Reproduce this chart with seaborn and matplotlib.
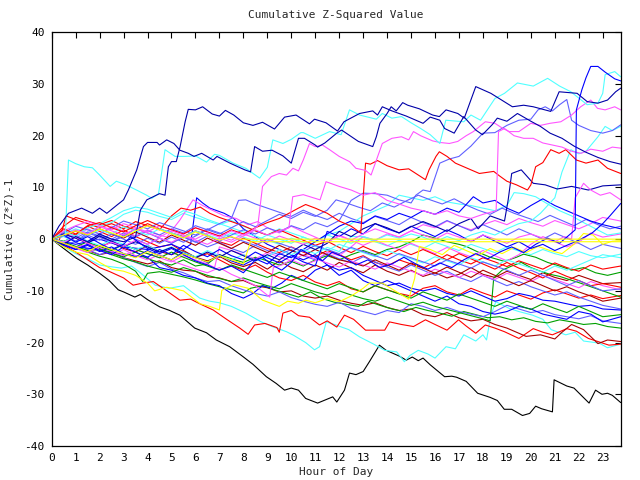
import matplotlib
matplotlib.use("Agg")
import matplotlib.pyplot as plt
import seaborn as sns
import pandas as pd

# ---- data: (hour, cumulative value) pairs ----
BLACK = [(0,0),(0.5,-1.8),(1.04,-3.7),(1.5,-5.0),(2.0,-6.6),(2.4,-8.0),(2.78,-9.8),(3.0,-10.2),(3.47,-11.2),(3.7,-10.7),(4.0,-11.7),(4.51,-13.1),(4.93,-13.8),(5.35,-14.7),(5.97,-17.2),(6.46,-18.1),(6.87,-19.5),(7.43,-20.8),(7.98,-22.7),(8.4,-24.2),(8.96,-26.6),(9.37,-27.9),(9.72,-29.2),(10.0,-28.8),(10.3,-29.2),(10.6,-30.8),(11.1,-31.7),(11.73,-30.5),(11.9,-31.5),(12.22,-29.2),(12.43,-25.9),(12.7,-26.2),(13.0,-25.6),(13.26,-23.7),(13.68,-20.5),(13.96,-21.5),(14.5,-22.6),(14.8,-23.4),(15.05,-22.8),(15.3,-23.5),(15.5,-23.0),(15.8,-24.3),(16.4,-26.6),(16.7,-26.5),(16.9,-26.7),(17.3,-27.5),(17.78,-29.8),(18.3,-30.6),(18.6,-31.2),(18.89,-32.9),(19.2,-32.9),(19.65,-34.1),(19.95,-33.7),(20.2,-32.3),(20.45,-32.8),(20.9,-33.4),(20.97,-27.2),(21.5,-28.4),(21.8,-28.8),(22.43,-31.7),(22.7,-29.2),(22.97,-30.0),(23.2,-29.8),(23.4,-30.2),(23.75,-31.6)]
CYAN_LOW = [(0,0),(0.5,-1.5),(1,-2.8),(1.5,-3.8),(2,-5.0),(2.43,-5.3),(2.9,-5.6),(3.33,-5.2),(3.7,-6.5),(4.32,-8.9),(4.9,-9.5),(5.5,-9.0),(6.18,-11.4),(6.6,-12.0),(7.0,-12.3),(7.5,-13.0),(8.1,-14.3),(8.7,-15.9),(9.2,-16.9),(9.8,-17.9),(10.1,-18.6),(10.6,-20.0),(10.97,-21.4),(11.18,-20.8),(11.46,-16.0),(11.8,-16.5),(12.4,-17.5),(12.85,-18.9),(13.4,-20.2),(13.9,-21.5),(14.4,-21.8),(14.72,-23.7),(14.95,-22.5),(15.3,-21.5),(15.7,-22.2),(16.0,-23.0),(16.46,-20.8),(16.85,-21.2),(17.2,-18.5),(17.7,-19.7),(18.0,-18.5),(18.15,-19.5),(18.33,-14.7),(18.54,-12.1),(19.1,-13.4),(19.5,-14.0),(20.07,-14.7),(20.5,-15.5),(20.85,-17.5),(21.46,-18.5),(21.85,-18.0),(22.2,-19.7),(22.85,-20.1),(23.2,-21.0),(23.75,-20.3)]
RED_LOW = [(0,0),(0.5,-1.2),(1,-2.5),(1.5,-4.0),(2,-5.5),(2.43,-6.3),(3.0,-7.5),(3.4,-8.9),(3.8,-8.5),(4.24,-8.2),(4.8,-10.0),(5.35,-11.8),(5.8,-11.6),(6.18,-12.5),(6.74,-13.7),(7.3,-15.5),(7.85,-17.2),(8.2,-18.4),(8.47,-16.6),(8.9,-16.3),(9.4,-17.1),(9.5,-18.0),(9.65,-14.3),(10.0,-13.8),(10.3,-14.8),(10.76,-15.1),(11.18,-16.6),(11.5,-15.8),(11.9,-17.0),(12.22,-14.7),(12.6,-15.5),(13.1,-17.6),(13.9,-17.6),(14.1,-16.0),(14.6,-16.5),(15.1,-16.9),(15.6,-15.6),(16.0,-16.5),(16.5,-17.6),(16.98,-15.6),(17.3,-16.8),(17.7,-18.2),(18.1,-16.6),(18.5,-17.2),(18.9,-17.9),(19.5,-19.2),(20.1,-17.3),(20.5,-18.0),(20.9,-18.5),(21.5,-17.3),(21.9,-17.8),(22.4,-19.2),(22.8,-19.8),(23.26,-20.5),(23.75,-20.3)]
DRED_LOW = [(0,0),(0.5,-0.8),(1,-1.8),(1.5,-2.2),(2,-3.0),(2.5,-2.5),(3,-3.6),(3.5,-4.2),(4,-4.8),(4.5,-4.2),(5,-5.5),(5.5,-6.0),(6,-6.2),(6.5,-7.3),(7,-7.5),(7.5,-8.2),(8,-8.0),(8.5,-9.0),(9,-9.4),(9.5,-10.2),(10,-10.0),(10.5,-11.0),(11,-11.4),(11.5,-11.0),(12,-11.8),(12.5,-12.4),(13,-12.8),(13.5,-12.3),(14,-13.2),(14.5,-13.8),(15,-13.5),(15.5,-14.6),(16,-15.0),(16.5,-14.2),(17,-15.2),(17.5,-15.8),(18,-15.5),(18.5,-16.5),(19,-17.2),(19.4,-18.0),(19.8,-18.8),(20.4,-18.5),(21.0,-19.3),(21.3,-18.0),(21.7,-16.5),(22.2,-17.5),(22.8,-20.2),(23.2,-19.5),(23.75,-19.8)]
GREEN_LOW = [(0,0),(0.5,-0.8),(1,-1.6),(1.5,-2.5),(2,-3.3),(2.5,-3.9),(3,-4.8),(3.5,-6.2),(3.8,-8.2),(4.0,-6.6),(4.5,-6.3),(5,-6.8),(5.5,-7.3),(6,-7.9),(6.5,-8.6),(7,-9.2),(7.5,-9.8),(8,-10.4),(8.3,-9.5),(8.8,-9.0),(9.3,-9.8),(9.8,-10.5),(10.3,-11.2),(10.8,-10.2),(11.3,-11.5),(11.8,-12.2),(12.3,-12.6),(12.8,-13.0),(13.2,-12.0),(13.7,-12.8),(14.2,-13.5),(14.7,-14.0),(15.2,-13.2),(15.7,-13.8),(16.2,-14.3),(16.7,-14.9),(17.2,-14.0),(17.7,-14.6),(18.2,-15.2),(18.7,-15.0),(19.2,-15.6),(19.7,-15.2),(20.2,-15.9),(20.7,-16.2),(21.2,-15.6),(21.7,-16.0),(22.2,-16.5),(22.7,-16.3),(23.2,-16.9),(23.75,-17.2)]
LBLUE_LOW = [(0,0),(0.5,-1),(1,-0.5),(1.5,-2),(2,-3),(2.5,-2.2),(3,-3.6),(3.5,-4.5),(4,-5.3),(4.5,-4.5),(5,-5.8),(5.5,-6.5),(6,-7.5),(6.5,-8.2),(7,-8.0),(7.5,-9.0),(8,-9.8),(8.5,-10.5),(9,-11.0),(9.5,-10.2),(10,-11.3),(10.5,-12.0),(11,-12.6),(11.5,-13.0),(12,-12.2),(12.5,-13.4),(13,-14.0),(13.5,-14.6),(14,-13.8),(14.5,-14.2),(15,-12.5),(15.5,-13.0),(16,-13.8),(16.5,-13.2),(17,-14.0),(17.5,-14.5),(18,-15.0),(18.5,-14.0),(19,-12.8),(19.5,-13.5),(20,-14.2),(20.5,-13.8),(21,-14.6),(21.5,-15.0),(22,-15.4),(22.5,-14.8),(23,-15.8),(23.75,-16.3)]
BLUE_C = [(0,0),(1,-1.5),(2,-2),(3,-3),(4,-3.5),(4.5,-5.5),(5,-6),(5.5,-7),(6,-7.5),(6.5,-8.5),(7,-9),(7.5,-10.5),(8,-11.4),(8.4,-10.5),(8.8,-9),(9.2,-9.5),(9.6,-8.5),(10,-7),(10.5,-8),(11,-6),(11.5,-5),(12,-7),(12.5,-6),(13,-8),(13.5,-9),(14,-8),(14.5,-9),(15,-10),(15.5,-11),(16,-12),(16.5,-11),(17,-12.5),(17.5,-13),(18,-14),(18.5,-14.5),(19,-14),(19.5,-13),(20,-13.5),(20.5,-14.5),(21,-15),(21.5,-15.5),(22,-14),(22.5,-14.5),(23,-16),(23.75,-15)]
RED_M11 = [(0,0),(0.5,1.5),(1,0.8),(1.5,2.5),(2,1.5),(2.5,0.5),(3,1.8),(3.5,0.5),(4,-0.5),(4.5,-1.5),(5,-1.0),(5.5,-2.5),(6,-3.5),(6.5,-2.8),(7,-4.0),(7.5,-5.2),(8,-6.0),(8.5,-5.0),(9,-6.4),(9.5,-7.5),(10,-8.0),(10.5,-7.0),(11,-8.3),(11.5,-9.0),(12,-8.2),(12.5,-9.6),(13,-10.2),(13.5,-9.0),(14,-9.8),(14.5,-10.5),(15,-11.0),(15.5,-9.5),(16,-9.0),(16.5,-10.2),(17,-10.8),(17.5,-9.5),(18,-10.4),(18.5,-11.2),(19,-10.0),(19.5,-10.8),(20,-11.6),(20.5,-10.4),(21,-9.8),(21.5,-10.6),(22,-11.4),(22.5,-10.8),(23,-11.5),(23.75,-10.9)]
DRED_M8 = [(0,0),(0.5,-0.5),(1,0.5),(1.5,-0.8),(2,-1.5),(2.5,-0.6),(3,-1.8),(3.5,-2.5),(4,-1.2),(4.5,-2.4),(5,-3.0),(5.5,-2.2),(6,-3.5),(6.5,-4.2),(7,-3.3),(7.5,-4.6),(8,-5.3),(8.5,-4.5),(9,-5.8),(9.5,-4.2),(10,-5.5),(10.5,-6.3),(11,-5.0),(11.5,-6.0),(12,-4.5),(12.5,-5.6),(13,-6.5),(13.5,-5.0),(14,-6.2),(14.5,-7.0),(15,-6.0),(15.5,-7.2),(16,-6.5),(16.5,-7.5),(17,-6.8),(17.5,-5.5),(18,-6.8),(18.5,-7.4),(19,-6.2),(19.5,-7.0),(20,-7.8),(20.5,-6.5),(21,-7.4),(21.5,-8.0),(22,-7.0),(22.5,-7.8),(23,-8.6),(23.75,-8.4)]
GREEN_M6 = [(0,0),(0.5,-1.0),(1,-1.5),(1.5,-0.5),(2,-1.8),(2.5,-2.8),(3,-3.4),(3.5,-2.5),(4,-3.8),(4.5,-4.5),(5,-5.0),(5.5,-4.0),(6,-5.2),(6.5,-4.8),(7,-3.0),(7.5,-3.8),(8,-4.5),(8.5,-3.5),(9,-4.2),(9.5,-5.0),(10,-4.3),(10.5,-5.2),(11,-4.0),(11.5,-3.2),(12,-4.0),(12.5,-3.0),(13,-2.2),(13.5,-3.0),(14,-2.0),(14.5,-1.5),(15,-0.5),(15.5,0.8),(16,0.2),(16.5,-0.5),(17,-1.0),(17.3,-1.4),(17.8,-2.5),(18.3,-3.5),(18.9,-4.3),(19.4,-3.5),(19.7,-2.9),(20.2,-3.5),(20.7,-4.5),(21.2,-5.2),(21.7,-6.0),(22.2,-5.5),(22.7,-6.5),(23.2,-7.0),(23.75,-6.4)]
RED_M5 = [(0,0),(0.5,2.5),(1,4.2),(1.5,3.5),(2,2.8),(2.5,3.6),(3,2.5),(3.5,1.8),(4,3.0),(4.5,2.0),(5,1.2),(5.5,0.5),(6,1.6),(6.5,0.8),(7,-0.5),(7.5,-1.2),(8,0.2),(8.5,-0.8),(9,-1.8),(9.5,-2.6),(10,-1.5),(10.5,-2.5),(11,-3.4),(11.5,-2.2),(12,-3.0),(12.5,-4.0),(13,-3.2),(13.5,-4.5),(14,-5.2),(14.5,-4.0),(15,-4.8),(15.5,-5.6),(16,-4.4),(16.5,-3.0),(17,-4.0),(17.5,-4.8),(18,-3.6),(18.5,-4.4),(19,-5.3),(19.5,-4.2),(20,-5.0),(20.5,-5.8),(21,-4.6),(21.5,-5.5),(22,-6.2),(22.5,-5.0),(23,-5.8),(23.75,-5.2)]
CYAN_M3 = [(0,0),(0.5,1.0),(1,2.0),(1.5,1.2),(2,2.5),(2.5,3.2),(3,4.8),(3.5,5.6),(4,5.2),(4.5,4.4),(5,3.8),(5.5,5.0),(6,4.2),(6.5,3.5),(7,2.8),(7.5,3.6),(8,2.5),(8.5,1.6),(9,0.8),(9.5,2.0),(10,1.2),(10.5,0.4),(11,-0.5),(11.5,0.8),(12,0.0),(12.5,-0.8),(13,0.4),(13.5,-0.5),(14,-1.3),(14.5,-0.2),(15,-1.0),(15.5,-1.8),(16,-0.6),(16.5,-1.4),(17,-2.2),(17.5,-1.0),(18,-1.8),(18.5,-2.6),(19,-1.5),(19.5,-2.3),(20,-3.0),(20.5,-2.0),(21,-2.8),(21.5,-3.4),(22,-2.4),(22.5,-3.2),(23,-3.6),(23.75,-2.9)]
CYAN_M8 = [(0,0),(0.5,0.5),(1,-0.5),(1.5,0.8),(2,1.8),(2.5,1.0),(3,2.4),(3.5,1.6),(4,0.8),(4.5,2.0),(5,1.2),(5.5,0.4),(6,1.6),(6.5,0.8),(7,0.0),(7.5,1.2),(8,0.4),(8.5,-0.4),(9,0.8),(9.5,0.0),(10,-0.8),(10.5,0.4),(11,-0.5),(11.5,0.8),(12,1.5),(12.5,3.0),(13,4.5),(13.5,5.5),(14,6.5),(14.5,8.5),(15,8.0),(15.5,7.5),(16,8.2),(16.5,7.2),(17,6.8),(17.5,6.5),(18,6.0),(18.5,5.5),(19,6.5),(19.3,9.0),(19.7,8.8),(20.2,8.2),(20.7,6.8),(21.2,5.5),(21.7,4.5),(22.2,3.2),(22.7,2.0),(23.2,0.8),(23.75,1.2)]
GREEN_J = [(0,0),(0.5,-0.6),(1,-1.4),(1.5,-2.2),(2,-2.0),(2.5,-3.0),(3,-3.8),(3.5,-4.4),(4,-5.2),(4.5,-5.8),(5,-6.4),(5.5,-5.5),(6,-6.2),(6.5,-7.0),(7,-7.6),(7.5,-8.2),(8,-7.5),(8.5,-8.3),(9,-9.0),(9.5,-9.6),(10,-8.6),(10.5,-9.4),(11,-10.2),(11.5,-10.8),(12,-10.0),(12.5,-10.8),(13,-11.5),(13.5,-12.0),(14,-11.2),(14.5,-12.0),(15,-12.8),(15.5,-12.2),(16,-13.0),(16.5,-13.6),(17,-14.2),(17.5,-14.8),(18,-15.4),(18.3,-15.8),(18.45,-7.5),(18.8,-6.0),(19.2,-5.2),(19.6,-4.5),(20,-5.5),(20.4,-6.2),(20.8,-6.8),(21.2,-7.2),(21.6,-7.8),(22,-8.4),(22.5,-9.2),(23,-10.0),(23.5,-10.8),(23.75,-11.2)]
LBLUE2 = [(0,0),(0.5,0.8),(1,-0.4),(1.5,1.2),(2,0.4),(2.5,-0.6),(3,0.6),(3.5,2.0),(4,1.2),(4.5,0.2),(5,-0.8),(5.5,0.5),(6,-0.5),(6.5,-1.5),(7,-0.6),(7.5,-1.8),(8,-2.6),(8.5,-1.2),(9,-2.2),(9.5,-3.0),(10,-2.0),(10.5,-3.2),(11,-4.0),(11.5,-2.8),(12,-3.8),(12.5,-4.6),(13,-3.4),(13.5,-4.4),(14,-5.4),(14.5,-6.2),(15,-5.0),(15.5,-6.0),(16,-7.0),(16.5,-6.2),(17,-7.4),(17.5,-8.2),(18,-7.0),(18.5,-8.0),(19,-9.0),(19.5,-8.2),(20,-9.2),(20.5,-10.0),(21,-10.8),(21.5,-10.2),(22,-11.2),(22.5,-12.0),(23,-12.8),(23.75,-13.5)]
LBLUE5 = [(0,0),(0.5,0.6),(1,-0.4),(1.5,0.8),(2,-0.2),(2.5,1.0),(3,0.0),(3.5,-1.0),(4,0.2),(4.5,-0.8),(5,0.4),(5.5,-0.6),(6,0.6),(6.5,1.8),(7,1.0),(7.5,2.2),(8,3.4),(8.5,2.4),(9,3.6),(9.5,4.8),(10,4.0),(10.5,5.2),(11,4.4),(11.5,5.6),(11.87,7.6),(12.3,7.0),(12.8,6.2),(13.3,5.5),(13.8,7.0),(14.3,6.2),(14.8,7.4),(15.3,8.5),(15.8,7.6),(16.3,6.8),(16.8,7.8),(17.3,6.6),(17.8,5.6),(18.3,4.8),(18.8,6.0),(19.3,5.0),(19.8,4.2),(20.3,3.4),(20.8,4.6),(21.3,3.6),(21.8,2.6),(22.3,3.8),(22.8,2.8),(23.3,2.0),(23.75,2.5)]
BLUE_B = [(0,0),(1,-1),(2,0),(3,-1.5),(4,-2),(5,-1),(5.5,-2),(5.8,-1),(6.05,8),(6.3,7),(6.6,6),(7.2,5),(7.6,4),(8,2),(8.5,0.5),(9,-1),(9.5,-2),(10,-3),(10.5,-4),(11,-3),(11.5,-5),(12,-6),(12.5,-5.5),(13,-7),(13.5,-8),(14,-9),(14.5,-8.5),(15,-9.5),(15.5,-10),(16,-9.5),(16.5,-10.5),(17,-11),(17.5,-10),(18,-11),(18.5,-12),(19,-11.5),(19.5,-10.5),(20,-11),(20.5,-11.8),(21,-12),(21.5,-12.5),(22,-13),(22.5,-12.8),(23,-13.5),(23.75,-13.7)]
BLUE_M = [(0,0),(0.5,-1),(1,-2),(1.5,-1.2),(2,-2.4),(2.5,-1.5),(3,-2.8),(3.5,-3.5),(4,-2.2),(4.5,-3.2),(5,-4.0),(5.5,-2.5),(6,-3.5),(6.5,-4.5),(7,-3.0),(7.5,-4.2),(8,-5.0),(8.5,-3.8),(9,-4.8),(9.5,-2.8),(10,-3.6),(10.5,-2.0),(11,-0.5),(11.5,1.0),(12,2.5),(12.5,3.5),(13,3.0),(13.5,4.5),(14,3.8),(14.5,5.0),(15,4.2),(15.5,5.5),(16,4.8),(16.5,6.0),(17,5.2),(17.6,8.2),(18,7.0),(18.5,7.5),(19,6.0),(19.5,5.0),(20,6.5),(20.5,7.8),(21,6.5),(21.5,5.5),(22,4.5),(22.5,3.5),(23,2.8),(23.75,2.0)]
MAG_A = [(0,0),(0.5,1.2),(1,0.5),(1.5,2.0),(2,1.0),(2.5,2.5),(3,1.5),(3.5,0.6),(4,1.8),(4.5,0.8),(4.8,0.4),(5.35,3.7),(5.9,7.6),(6.3,6.5),(6.7,5.6),(7.2,4.5),(7.7,4.0),(8.2,2.8),(8.6,3.4),(9,2.2),(9.5,1.2),(10,2.5),(10.5,1.4),(11,0.4),(11.5,-0.6),(12,0.8),(12.5,-0.2),(13,-1.2),(13.5,-0.2),(14,-1.2),(14.5,-2.0),(15,-0.8),(15.5,-1.8),(16,-2.8),(16.5,-1.6),(17,-2.6),(17.5,-3.4),(18,-2.2),(18.5,-3.2),(19,-4.2),(19.5,-3.0),(20,-1.0),(20.5,0.5),(21,-0.5),(21.5,-1.5),(22,-0.6),(22.5,1.2),(23,0.4),(23.75,1.0)]
MAG_D = [(0,0),(0.5,-0.8),(1,-1.6),(1.5,-1.0),(2,-2.2),(2.5,-3.0),(3,-2.0),(3.5,-3.2),(4,-4.0),(4.5,-3.0),(5,-4.2),(5.5,-5.0),(6,-5.8),(6.5,-6.5),(7,-5.5),(7.5,-6.8),(8,-7.8),(8.5,-9.0),(9.1,-11.2),(9.25,-5.5),(9.6,-5.0),(10,-4.0),(10.5,-5.0),(11,-4.2),(11.5,-2.5),(12,-3.2),(12.5,-1.5),(13,0.5),(13.5,-0.2),(14,1.0),(14.5,0.4),(15,1.6),(15.5,2.8),(16,2.2),(16.5,3.5),(17,2.6),(17.5,1.8),(18,2.8),(18.5,3.6),(19,2.8),(19.5,4.0),(20,3.2),(20.5,2.5),(21,3.6),(21.5,2.8),(22,2.0),(22.5,3.0),(23,4.2),(23.75,3.5)]
MAG_E = [(0,0),(0.5,-1.0),(1,-1.8),(1.5,-2.6),(2,-1.6),(2.5,-2.4),(3,-3.2),(3.5,-2.0),(4,-2.8),(4.5,-3.6),(5,-4.4),(5.5,-3.2),(6,-4.0),(6.5,-4.8),(6.8,-5.5),(7.0,-1.5),(7.5,-2.2),(8,-3.0),(8.5,-3.8),(9,-2.6),(9.5,-3.4),(10,-4.2),(10.5,-3.0),(11,-3.8),(11.5,-4.6),(12,-5.4),(12.5,-4.2),(13,-5.0),(13.5,-5.8),(14,-4.6),(14.5,-5.4),(15,-6.2),(15.5,-7.0),(16,-5.8),(16.5,-6.6),(17,-7.4),(17.5,-6.2),(18,-7.0),(18.5,-7.8),(19,-6.6),(19.5,-7.4),(20,-8.2),(20.5,-7.0),(21,-7.8),(21.5,-8.6),(22,-9.4),(22.5,-8.2),(23,-9.0),(23.75,-9.8)]
CYAN2 = [(0,0),(0.5,-0.5),(1,0.6),(1.5,-0.4),(2,-1.2),(2.5,-0.2),(3,-1.0),(3.5,-2.0),(4,-1.2),(4.5,-2.4),(5,-1.5),(5.5,-2.6),(6,-3.4),(6.5,-2.2),(7,-3.2),(7.5,-4.0),(8,-3.0),(8.5,-4.2),(9,-3.4),(9.5,-2.0),(10,-3.0),(10.5,-2.0),(11,-2.8),(11.5,-1.6),(12,-2.4),(12.5,0.5),(13,0.5),(13.5,-0.2),(14,0.8),(14.5,0.2),(15,1.0),(15.5,0.4),(16,-0.5),(16.5,0.5),(17,-0.3),(17.5,0.8),(18,1.5),(18.5,0.8),(19,2.0),(19.5,3.0),(20,3.5),(20.4,5.0),(21.0,8.0),(21.3,13.0),(21.67,17.3),(22.0,16.5),(22.3,17.0),(22.8,19.8),(23.1,21.8),(23.4,21.0),(23.75,21.8)]
LBLUE_P22 = [(0,0),(0.5,1.0),(1,0.2),(1.5,1.4),(2,0.6),(2.5,-0.4),(3,0.8),(3.5,0.0),(4,-1.0),(4.5,0.2),(5,-0.8),(5.5,0.4),(6,-0.6),(6.5,0.6),(7,-0.4),(7.5,0.8),(8,1.8),(8.5,1.0),(9,2.2),(9.5,1.4),(10,2.6),(10.5,1.8),(11,3.2),(11.5,2.4),(12,3.6),(12.5,7.5),(13,8.9),(13.5,8.8),(14,8.5),(14.5,7.6),(15,7.0),(15.2,8.5),(15.5,9.5),(15.8,9.2),(16.2,14.7),(16.6,15.5),(17,16.0),(17.5,18.0),(18.0,20.5),(18.5,20.6),(19,22.0),(19.5,23.0),(20.0,23.2),(20.3,25.0),(20.6,25.6),(20.9,24.8),(21.2,26.0),(21.5,27.0),(21.7,23.0),(22.0,22.0),(22.5,21.0),(23.0,20.5),(23.4,21.0),(23.75,22.1)]
BLUE_J = [(0,0),(0.5,0.8),(1,-0.6),(1.5,0.5),(2,-0.8),(2.5,-2.0),(3,-1.0),(3.3,0.5),(3.6,-0.5),(4,-1.8),(4.5,-2.8),(5,-1.8),(5.5,-3.0),(6,-4.2),(6.5,-5.0),(7,-6.0),(7.5,-5.2),(8,-6.5),(8.5,-4.0),(8.8,-3.5),(9.2,-5.0),(9.6,-6.0),(10,-4.5),(10.4,-2.0),(10.8,-3.0),(11.3,-4.2),(11.7,-2.5),(12.2,-3.5),(12.7,-5.0),(13.2,-4.0),(13.7,-5.5),(14.2,-4.8),(14.7,-3.5),(15.2,-4.8),(15.7,-5.8),(16.2,-4.6),(16.7,-5.5),(17.2,-4.0),(17.7,-2.8),(18.2,-3.8),(18.7,-2.5),(19.2,-1.5),(19.7,-2.6),(20.2,-1.0),(20.7,0.2),(21.2,-0.8),(21.6,0.8),(21.85,1.8),(21.9,25.0),(22.13,28.9),(22.3,31.2),(22.5,33.4),(22.8,33.4),(23.1,32.3),(23.5,31.0),(23.75,30.6)]
BLUE_P7 = [(0,0),(0.5,-1.2),(1,-2.0),(1.5,-1.0),(2,-2.2),(2.5,-3.0),(3,-1.5),(3.5,-2.5),(4,-3.5),(4.5,-2.0),(5,-3.0),(5.5,-1.2),(6,-2.4),(6.5,-3.4),(7,-2.0),(7.5,-3.2),(8,-4.0),(8.5,-2.5),(9,-3.6),(9.5,-4.6),(10,-3.2),(10.5,-4.4),(11,-5.2),(11.5,1.5),(12,0.5),(12.5,2.0),(13,1.0),(13.5,3.0),(14,2.0),(14.5,1.2),(15,2.5),(15.5,1.5),(16,0.5),(16.5,1.8),(17,0.8),(17.5,-0.5),(18,0.8),(18.5,-0.4),(19,-1.5),(19.5,-0.5),(20,-1.8),(20.5,-1.0),(21,-2.2),(21.5,-1.2),(22,-0.2),(22.56,1.2),(23,3.0),(23.3,4.5),(23.75,6.9)]
NAVY_C = [(0,0),(0.5,1.0),(1,0.2),(1.5,-0.8),(2,0.6),(2.5,-0.4),(3,-1.4),(3.5,-0.5),(4,-1.5),(4.5,-2.5),(5,-1.6),(5.5,-2.8),(6,-3.6),(6.5,-2.5),(7,-3.5),(7.5,-2.2),(8,-3.2),(8.5,-4.2),(9,-3.0),(9.5,-4.0),(10,-2.5),(10.5,-1.0),(11,-2.0),(11.5,-0.8),(12,1.5),(12.5,0.5),(13,2.0),(13.5,3.0),(14,2.2),(14.5,1.2),(15,2.4),(15.5,3.4),(16,2.5),(16.5,1.5),(17,3.0),(17.5,4.0),(17.8,2.0),(18.3,4.5),(18.9,3.5),(19.05,7.5),(19.2,12.7),(19.6,13.4),(20.1,10.8),(20.6,10.5),(21.1,9.7),(21.7,10.2),(22.4,9.5),(23.0,10.3),(23.75,10.5)]
NAVY_A = [(0,0),(0.5,-1.0),(1,0.5),(1.5,-0.5),(2,1.0),(2.5,0.0),(3,-0.5),(3.5,0.4),(3.7,5.6),(3.97,7.6),(4.5,8.8),(4.73,8.5),(4.87,14.0),(5.0,15.0),(5.2,15.0),(5.36,17.9),(5.57,22.7),(5.7,25.1),(6.0,25.0),(6.3,25.6),(6.7,24.2),(7.0,23.8),(7.25,24.9),(7.6,24.0),(8.0,22.5),(8.4,22.0),(8.8,22.6),(9.3,21.3),(9.72,23.6),(10.2,24.0),(10.76,22.3),(10.97,23.2),(11.45,22.5),(11.93,20.9),(12.2,22.7),(12.85,24.3),(13.4,24.8),(13.6,24.0),(13.8,25.6),(14.2,24.8),(14.8,23.8),(15.5,22.4),(15.8,23.6),(16.2,23.0),(16.4,21.4),(16.8,20.5),(17.2,23.7),(17.7,21.1),(17.98,20.2),(18.4,22.2),(18.6,23.4),(19.0,22.8),(19.44,24.3),(20.0,22.8),(20.4,21.8),(20.8,20.5),(21.3,19.5),(21.8,18.0),(22.3,16.8),(22.8,15.8),(23.3,15.0),(23.75,14.5)]
NAVY_B = [(0,0),(0.3,2.5),(0.7,5.0),(1.25,6.0),(1.7,5.0),(2.0,6.0),(2.3,5.0),(2.7,6.5),(3.0,7.6),(3.2,9.5),(3.55,13.4),(3.83,17.9),(4.0,18.7),(4.4,18.7),(4.5,18.2),(4.8,19.2),(5.1,18.5),(5.35,17.2),(5.7,16.6),(5.94,16.0),(6.26,16.6),(6.74,15.3),(6.9,16.0),(7.44,14.7),(8.06,13.4),(8.3,13.0),(8.47,17.9),(8.8,17.0),(9.2,17.2),(9.65,16.1),(10.0,14.7),(10.3,19.5),(10.55,19.5),(11.0,18.2),(11.1,17.8),(11.4,18.6),(11.9,20.5),(12.1,21.1),(12.8,18.9),(13.4,17.9),(13.55,19.8),(13.7,22.4),(14.0,24.3),(14.17,25.6),(14.38,24.8),(14.65,26.4),(14.86,25.9),(15.35,25.2),(15.9,24.0),(16.18,23.7),(16.46,25.0),(16.95,24.3),(17.22,23.4),(17.7,29.5),(18.33,28.2),(19.23,25.6),(19.7,25.9),(20.1,25.6),(20.83,24.7),(21.18,28.5),(21.93,28.2),(22.35,26.6),(22.8,26.3),(23.2,26.9),(23.54,28.5),(23.75,29.2)]
CYAN_TOP = [(0,0),(0.3,0.8),(0.57,0.5),(0.7,15.3),(1.0,14.6),(1.36,14.0),(1.7,13.8),(2.0,12.4),(2.44,10.2),(2.7,11.2),(3.1,10.5),(3.54,9.5),(3.96,8.5),(4.18,7.9),(4.46,8.8),(4.73,17.3),(5.15,16.0),(5.57,16.0),(6.0,16.1),(6.46,14.9),(6.8,16.4),(7.0,16.2),(7.57,14.7),(8.1,13.7),(8.68,11.8),(9.0,13.9),(9.23,19.2),(9.65,18.5),(10.0,19.3),(10.4,20.6),(10.5,20.6),(11.0,19.5),(11.6,20.8),(12.08,20.2),(12.43,25.0),(12.85,24.0),(13.55,23.2),(13.8,24.3),(14.2,23.4),(14.6,23.7),(15.0,22.5),(15.4,21.4),(15.8,20.2),(16.2,18.5),(16.45,23.0),(17.2,22.7),(17.5,24.0),(17.9,23.0),(18.5,27.2),(18.9,28.2),(19.44,30.2),(20.1,29.6),(20.7,31.1),(21.2,29.6),(21.67,28.5),(22.35,26.0),(22.8,26.3),(23.0,28.2),(23.1,31.8),(23.5,32.4),(23.75,31.4)]
MAG_M1 = [(0,0),(0.5,0.8),(1,1.8),(1.5,1.0),(2,2.4),(2.5,1.6),(3,0.8),(3.5,2.0),(4,1.2),(4.5,0.4),(5,1.6),(5.5,0.8),(6,0.0),(6.5,1.2),(7,0.4),(7.5,1.6),(8,0.8),(8.3,1.5),(8.6,2.5),(8.8,10.2),(9.17,12.1),(9.5,12.7),(9.8,12.4),(10.07,13.7),(10.3,13.2),(10.5,15.3),(10.76,18.5),(11.0,17.9),(11.3,18.2),(11.6,17.3),(12.0,16.0),(12.43,15.0),(12.7,13.7),(13.1,13.3),(13.33,12.4),(13.8,18.5),(14.2,19.5),(14.6,19.8),(14.9,19.2),(15.1,20.8),(15.4,20.0),(15.9,19.0),(16.2,18.7),(16.6,18.5),(16.95,18.9),(17.3,20.0),(17.6,20.8),(18.1,22.7),(18.5,22.4),(18.8,21.5),(19.1,20.8),(19.5,20.8),(20.0,22.4),(20.4,22.0),(20.8,22.4),(21.25,22.7),(21.7,24.0),(22.08,25.6),(22.5,26.9),(22.78,25.3),(23.1,25.0),(23.5,25.6),(23.75,25.0)]
MAG_B = [(0,0),(0.5,-0.6),(1,0.4),(1.5,-0.8),(2,-1.6),(2.5,-0.6),(3,-1.4),(3.5,-0.2),(4,-1.0),(4.5,0.2),(5,-0.6),(5.5,0.6),(6,-0.2),(6.5,-1.0),(7,0.2),(7.5,-0.6),(8,0.6),(8.5,1.8),(9,0.8),(9.5,1.6),(9.9,2.2),(10.06,8.2),(10.5,8.6),(11.2,7.6),(11.45,11.1),(12.0,10.2),(12.5,9.5),(13.0,8.5),(13.5,9.0),(14,7.5),(14.5,6.8),(15,6.0),(15.5,5.5),(16,4.8),(16.5,5.5),(17,4.5),(17.5,4.0),(18,4.8),(18.55,5.5),(18.65,20.8),(18.9,21.4),(19.3,20.0),(19.7,19.5),(20.1,19.5),(20.5,18.6),(20.9,18.2),(21.3,17.8),(21.7,17.0),(22.1,16.6),(22.5,17.4),(23.0,17.0),(23.4,17.8),(23.75,17.6)]
MAG_C = [(0,0),(0.5,1.6),(1,2.6),(1.5,3.4),(2,2.6),(2.5,1.8),(3,3.0),(3.5,2.2),(4,1.4),(4.5,2.6),(5,1.8),(5.5,1.0),(6,2.2),(6.5,1.4),(7,0.6),(7.5,-0.2),(8,1.0),(8.5,0.2),(9,-0.6),(9.5,0.6),(10,-0.2),(10.5,-1.0),(11,0.2),(11.5,-0.6),(12,0.6),(12.5,-0.2),(13,1.0),(13.5,2.0),(14,1.2),(14.5,0.4),(15,1.6),(15.5,0.8),(16,0.0),(16.5,1.2),(17,0.4),(17.5,-0.4),(18,0.8),(18.5,0.0),(19,-0.8),(19.5,0.4),(20,1.0),(20.5,0.2),(21,-0.5),(21.4,0.5),(21.7,0.0),(21.85,8.0),(22.2,10.8),(22.5,9.5),(22.9,8.5),(23.3,9.0),(23.75,7.6)]
RED_UP = [(0,0),(0.5,2.0),(1,1.0),(1.5,2.6),(2,3.2),(2.5,2.2),(3,1.4),(3.5,2.6),(4,3.6),(4.5,2.6),(5,1.8),(5.5,1.0),(6,2.2),(6.5,1.4),(7,0.6),(7.5,1.8),(8,1.0),(8.5,2.2),(9,3.2),(9.5,4.0),(9.9,5.0),(10.3,6.0),(10.6,6.7),(11.0,6.0),(11.5,5.0),(12.0,3.5),(12.5,2.5),(12.9,1.2),(13.1,14.7),(13.3,14.5),(13.6,15.2),(14.0,14.2),(14.5,13.4),(14.9,13.6),(15.2,12.7),(15.6,11.5),(15.75,13.4),(16.04,16.0),(16.18,16.9),(16.5,16.0),(16.85,14.7),(17.3,13.8),(17.85,12.7),(18.45,13.1),(18.7,12.2),(19.0,11.2),(19.4,10.5),(19.86,9.5),(20.0,10.5),(20.2,14.0),(20.5,14.8),(20.83,17.3),(21.18,16.6),(21.46,17.3),(21.9,15.3),(22.3,14.7),(22.8,15.3),(23.2,13.7),(23.75,12.7)]
RED_E = [(0,0),(0.3,-0.5),(0.6,4.5),(1,3.8),(1.5,3.0),(2,2.2),(2.5,3.0),(3,2.0),(3.5,3.4),(4,2.6),(4.5,1.8),(5,4.5),(5.4,6.0),(5.8,5.6),(6.2,6.2),(6.6,5.0),(7,4.2),(7.5,3.4),(8,2.6),(8.5,1.6),(9,0.8),(9.5,1.8),(10,0.8),(10.5,-0.2),(11,-1.2),(11.5,-0.4),(12,-1.6),(12.5,-2.6),(13,-1.4),(13.5,-2.4),(14,-3.2),(14.5,-2.0),(15,-3.0),(15.5,-2.0),(16,-3.0),(16.5,-4.0),(17,-2.8),(17.5,-3.8),(18,-4.8),(18.5,-5.8),(19,-4.5),(19.5,-5.6),(20,-6.5),(20.5,-7.5),(21,-6.2),(21.5,-7.2),(22,-8.0),(22.5,-9.0),(23,-8.6),(23.75,-9.3)]
DRED2 = [(0,0),(0.5,0.6),(1,1.6),(1.5,0.8),(2,2.0),(2.5,1.0),(3,0.2),(3.5,1.4),(4,0.4),(4.5,-0.6),(5,0.8),(5.5,-0.2),(6,-1.2),(6.5,0.2),(7,-0.8),(7.5,-1.8),(8,-0.6),(8.5,-1.6),(9,-2.6),(9.5,-1.2),(10,-2.2),(10.5,-3.2),(11,-2.0),(11.5,-3.0),(12,-4.0),(12.5,-4.5),(13,-5.2),(13.5,-4.0),(14,-5.0),(14.5,-6.0),(15,-4.6),(15.5,-5.6),(16,-6.6),(16.5,-5.4),(17,-6.4),(17.5,-7.4),(18,-6.0),(18.5,-7.0),(19,-8.0),(19.5,-9.0),(20,-8.0),(20.5,-9.0),(21,-10.0),(21.5,-9.2),(22,-10.2),(22.5,-11.0),(23,-12.0),(23.75,-11.4)]
GREEN_3 = [(0,0),(0.5,-0.4),(1,0.4),(1.5,-0.6),(2,-1.4),(2.5,-2.2),(3,-1.0),(3.5,-2.0),(4,-2.8),(4.5,-3.6),(5,-2.5),(5.5,-3.5),(6,-4.4),(6.5,-5.2),(7,-6.0),(7.5,-5.0),(8,-5.8),(8.5,-6.6),(9,-7.4),(9.5,-6.4),(10,-7.2),(10.5,-8.0),(11,-8.8),(11.5,-9.6),(12,-8.6),(12.5,-9.4),(13,-10.2),(13.5,-9.0),(14,-9.8),(14.5,-10.6),(15,-11.4),(15.5,-10.2),(16,-11.0),(16.5,-11.8),(17,-10.6),(17.5,-11.4),(18,-12.2),(18.5,-13.0),(19,-12.0),(19.5,-12.8),(20,-13.6),(20.5,-12.5),(21,-13.4),(21.5,-14.2),(22,-13.0),(22.5,-14.0),(23,-15.0),(23.75,-14.6)]
CYAN_5 = [(0,0),(0.5,1.5),(1,0.6),(1.5,2.2),(2,3.0),(2.5,4.2),(3,5.5),(3.5,6.2),(4,5.8),(4.5,5.0),(5,4.2),(5.5,5.5),(6,4.8),(6.5,3.8),(7,3.0),(7.5,2.2),(8,1.4),(8.5,0.6),(9,-0.2),(9.5,-1.0),(10,0.2),(10.5,-0.6),(11,-1.4),(11.5,-2.2),(12,-1.0),(12.5,-1.8),(13,-2.6),(13.5,-3.4),(14,-2.2),(14.5,-3.0),(15,-3.8),(15.5,-4.6),(16,-3.4),(16.5,-4.2),(17,-5.0),(17.5,-3.6),(18,-4.4),(18.5,-5.2),(19,-4.0),(19.5,-4.8),(20,-5.6),(20.5,-6.4),(21,-5.2),(21.5,-6.0),(22,-5.0),(22.5,-4.0),(23,-3.0),(23.75,-3.6)]
LBLUE3 = [(0,0),(0.5,1.2),(1,2.5),(1.5,1.8),(2,1.0),(2.5,2.2),(3,3.5),(3.5,2.8),(4,2.0),(4.5,3.2),(5,2.4),(5.5,1.6),(6,0.8),(6.5,2.0),(7,1.2),(7.5,0.4),(8,-0.4),(8.5,-1.2),(9,0.0),(9.5,-0.8),(10,-1.6),(10.5,-2.4),(11,-1.2),(11.5,-2.0),(12,-2.8),(12.5,-1.6),(13,-2.4),(13.5,-3.2),(14,-4.0),(14.5,-2.8),(15,-3.6),(15.5,-4.4),(16,-5.2),(16.5,-4.0),(17,-4.8),(17.5,-5.6),(18,-4.4),(18.5,-5.2),(19,-6.0),(19.5,-7.0),(20,-6.0),(20.5,-7.0),(21,-8.0),(21.5,-9.0),(22,-8.0),(22.5,-9.0),(23,-10.0),(23.75,-9.6)]
LBLUE4 = [(0,0),(0.5,-0.6),(1,0.6),(1.5,-0.4),(2,0.8),(2.5,0.0),(3,1.2),(3.5,0.4),(4,1.6),(4.5,0.8),(5,2.0),(5.5,1.2),(6,2.6),(6.5,1.8),(7,3.0),(7.5,4.0),(7.8,7.5),(8.1,7.6),(8.5,6.8),(9,6.0),(9.5,5.2),(10,4.4),(10.5,5.6),(11,4.6),(11.5,3.8),(12,5.0),(12.5,4.0),(13,3.2),(13.5,4.4),(14,3.6),(14.5,2.8),(15,4.2),(15.5,3.2),(16,2.4),(16.5,3.6),(17,2.6),(17.5,1.6),(18,2.8),(18.5,1.8),(19,0.8),(19.5,2.0),(20,1.0),(20.5,0.0),(21,1.2),(21.5,0.2),(22,-0.8),(22.5,-2.0),(23,-1.0),(23.75,-1.8)]
YEL_A = [(0,0),(0.5,-1.5),(1,-2.5),(1.5,-3.0),(2,-4.5),(2.5,-5.8),(3,-6.2),(3.5,-7.0),(4,-8.5),(4.3,-10.0),(4.8,-9.3),(5.5,-10.0),(6.2,-12.5),(6.6,-13.0),(7.0,-13.7),(7.1,-9.9),(7.6,-8.8),(8.2,-9.5),(8.8,-11.8),(9.5,-13.0),(9.85,-12.0),(10.3,-12.4),(10.6,-11.8),(11.0,-12.3),(11.5,-11.5),(12.0,-12.1),(12.5,-11.0),(13.0,-9.5),(13.26,-8.5),(13.8,-8.5),(14.4,-10.2),(14.9,-11.6),(15.15,-7.6),(15.25,-4.3),(15.35,-1.4),(15.8,-2.0),(16.3,-3.0),(16.8,-1.2),(17.3,-2.2),(17.8,-3.2),(18.3,-1.8),(18.8,-2.8),(19.3,-1.6),(19.8,-2.6),(20.3,-1.4),(20.8,-2.2),(21.3,-2.8),(21.8,-1.0),(22.2,1.1),(22.6,0.8),(23.0,-1.0),(23.4,-0.4),(23.75,-0.3)]
YEL_F1 = [(0,0),(0.5,0.8),(1,1.6),(1.5,0.8),(2,2.0),(2.5,1.2),(3,0.4),(3.5,1.6),(4,2.6),(4.5,1.8),(5,1.0),(5.5,0.2),(6,1.4),(6.5,0.6),(7,-0.2),(7.5,0.5),(7.8,0.0),(23.75,0.0)]
YEL_F2 = [(0,0),(0.5,-0.8),(1,-1.6),(1.5,-2.4),(2,-1.2),(2.5,-2.0),(3,-2.8),(3.5,-3.6),(4,-2.4),(4.5,-3.2),(5,-4.0),(5.5,-2.8),(6,-3.6),(6.5,-4.4),(7,-3.2),(7.5,-4.0),(8,-4.8),(8.3,-0.5),(23.75,-0.5)]

RED = "#ff0000"; GREEN = "#00a000"; BLUE = "#0000ff"; NAVY = "#0000a8"
LBLUE = "#6060ff"; MAGENTA = "#ff55ff"; CYAN = "#50ffff"; DRED = "#a80000"
YELLOW = "#ffff00"; BLK = "#000000"

SERIES = [
    ("black", BLACK, BLK), ("cyan_low", CYAN_LOW, CYAN), ("red_low", RED_LOW, RED),
    ("dred_low", DRED_LOW, DRED), ("green_low", GREEN_LOW, GREEN), ("lblue_low", LBLUE_LOW, LBLUE),
    ("blue_c", BLUE_C, BLUE), ("red_m11", RED_M11, RED), ("dred_m8", DRED_M8, DRED),
    ("green_m6", GREEN_M6, GREEN), ("red_m5", RED_M5, RED), ("cyan_m3", CYAN_M3, CYAN),
    ("green_j", GREEN_J, GREEN), ("lblue2", LBLUE2, LBLUE), ("blue_b", BLUE_B, BLUE),
    ("mag_a", MAG_A, MAGENTA), ("mag_d", MAG_D, MAGENTA), ("mag_e", MAG_E, MAGENTA),
    ("red_e", RED_E, RED), ("dred2", DRED2, DRED), ("green_3", GREEN_3, GREEN),
    ("cyan_5", CYAN_5, CYAN), ("lblue3", LBLUE3, LBLUE), ("lblue4", LBLUE4, LBLUE),
    ("cyan_m8", CYAN_M8, CYAN), ("lblue5", LBLUE5, LBLUE), ("blue_m", BLUE_M, BLUE),
    ("yel_a", YEL_A, YELLOW), ("cyan2", CYAN2, CYAN), ("lblue_p22", LBLUE_P22, LBLUE),
    ("blue_p7", BLUE_P7, BLUE), ("navy_c", NAVY_C, NAVY), ("mag_c", MAG_C, MAGENTA),
    ("red_up", RED_UP, RED), ("mag_b", MAG_B, MAGENTA), ("mag_m1", MAG_M1, MAGENTA),
    ("cyan_top", CYAN_TOP, CYAN), ("navy_a", NAVY_A, NAVY), ("navy_b", NAVY_B, NAVY),
    ("blue_j", BLUE_J, BLUE), ("yel_f1", YEL_F1, YELLOW), ("yel_f2", YEL_F2, YELLOW),
]

XTICKS = list(range(0, 24))
YTICKS = [-40, -30, -20, -10, 0, 10, 20, 30, 40]

rows = []
for name, pts, _ in SERIES:
    for i, (h, v) in enumerate(pts):
        rows.append({"line": name, "order": i, "hour": h, "value": v})
df = pd.DataFrame(rows)
palette = {name: col for name, _, col in SERIES}
order = [name for name, _, _ in SERIES]

sns.set_style("white")
plt.rcParams["font.family"] = ["DejaVu Sans Mono"]
plt.rcParams["font.size"] = 8

fig = plt.figure(figsize=(6.4, 4.8), dpi=100)
ax = fig.add_axes([51.7 / 640, 1 - 446 / 480, (620.7 - 51.7) / 640, (446 - 32.3) / 480])

sns.lineplot(data=df, x="hour", y="value", hue="line", hue_order=order, palette=palette,
             units="line", estimator=None, sort=False, legend=False, linewidth=0.8, ax=ax)

ax.set_xlim(0, 23.75)
ax.set_ylim(-40, 40)
ax.set_xticks(XTICKS)
ax.set_xticklabels([str(t) for t in XTICKS])
ax.set_yticks(YTICKS)
ax.set_yticklabels([str(t) for t in YTICKS])
ax.tick_params(direction="in", length=4, width=0.8, top=True, right=True,
               labelsize=8, colors="black", pad=5)
for sp in ax.spines.values():
    sp.set_color("black")
    sp.set_linewidth(0.9)
ax.set_xlabel("")
ax.set_ylabel("")
fig.text(336 / 640, 1 - 15 / 480, "Cumulative Z-Squared Value", ha="center", va="center", fontsize=8)
fig.text(336 / 640, 1 - 472 / 480, "Hour of Day", ha="center", va="center", fontsize=8)
fig.text(10 / 640, 1 - 239 / 480, "Cumulative (Z*Z)-1", ha="center", va="center", rotation=90, fontsize=8)

fig.savefig("out.png", dpi=100)
